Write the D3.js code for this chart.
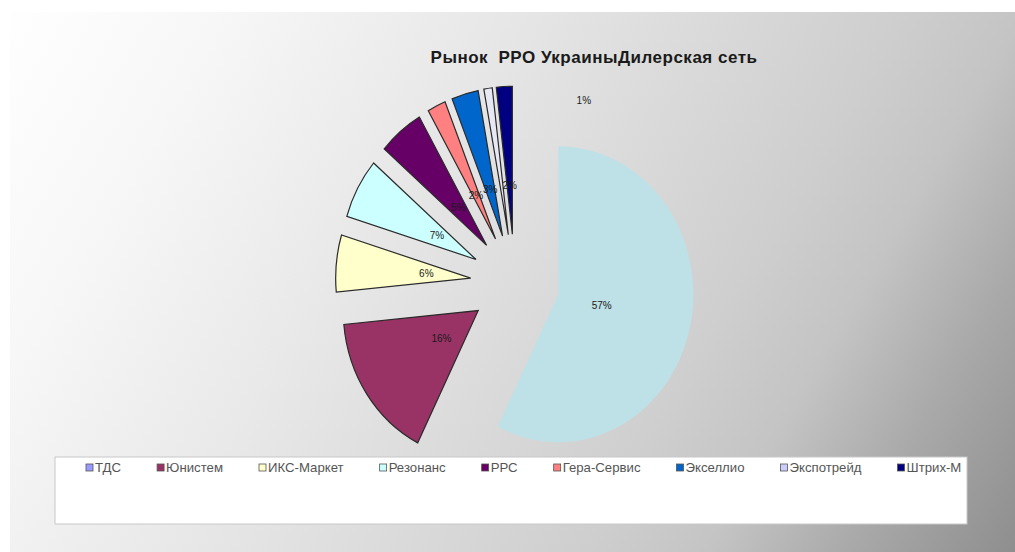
<!DOCTYPE html>
<html>
<head>
<meta charset="utf-8">
<script src="https://cdn.jsdelivr.net/npm/d3@7"></script>
<style>
  body { margin: 0; background: #fff; }
  svg { display: block; }
</style>
</head>
<body>
<div id="chart"></div>
<script>
// data (percent of market)
const categories = ['ТДС', 'Юнистем', 'ИКС-Маркет', 'Резонанс', 'РРС', 'Гера-Сервис', 'Экселлио', 'Экспотрейд', 'Штрих-М'];
const shares = [57.4, 16.1, 6.2, 6.6, 5.4, 2.2, 3.2, 1.0, 1.9];
const titleText = 'Рынок  РРО УкраиныДилерская сеть';

const sliceColors = ['#bde1e6', '#993366', '#ffffcc', '#ccffff', '#660066', '#ff8080', '#0066cc', '#e8e8f4', '#000080'];
const legendColors = ['#9999ff', '#993366', '#ffffcc', '#ccffff', '#660066', '#ff8080', '#0066cc', '#ccccff', '#000080'];

const width = 1015, height = 552;
const cx = 515, cy = 283, rx = 135, ry = 148, R = 100;
const explode = 0.33;     // every slice pulled out by a third of the radius
const labelPos = 0.33;    // labels a third of the way out from the slice tip

const svg = d3.select('#chart')
    .append('svg')
    .attr('width', width)
    .attr('height', height);

const defs = svg.append('defs');
const grad = defs.append('linearGradient')
    .attr('id', 'bg')
    .attr('gradientUnits', 'userSpaceOnUse')
    .attr('x1', 0).attr('y1', 0)
    .attr('x2', 996).attr('y2', 586);
[[0, '#ffffff'], [0.17, '#f7f7f7'], [0.36, '#e9e9e9'], [0.55, '#d9d9d9'],
 [0.68, '#cecece'], [0.77, '#c4c4c4'], [0.87, '#aaaaaa'], [1, '#8e8e8e']].forEach(s => {
    grad.append('stop').attr('offset', s[0]).attr('stop-color', s[1]);
});

svg.append('rect')
    .attr('x', 10).attr('y', 12)
    .attr('width', width - 10).attr('height', height - 12)
    .attr('fill', 'url(#bg)');

svg.append('text')
    .attr('x', 594).attr('y', 63)
    .attr('text-anchor', 'middle')
    .style('white-space', 'pre')
    .style('font-family', '"Liberation Sans", Arial, sans-serif')
    .style('font-weight', 'bold')
    .style('font-size', '17px')
    .style('letter-spacing', '0.5px')
    .attr('fill', '#1a1a1a')
    .text(titleText);

// pie drawn on a circle of radius R, then squashed into the ellipse
const pie = d3.pie().sort(null).value(d => d)(shares);
const arc = d3.arc().innerRadius(0).outerRadius(R);
const dir = a => [Math.sin(a), -Math.cos(a)];
const mid = d => (d.startAngle + d.endAngle) / 2;

const pieG = svg.append('g')
    .attr('transform', `translate(${cx},${cy}) scale(${rx / R},${ry / R})`);

pieG.selectAll('path')
    .data(pie)
    .enter()
    .append('path')
    .attr('d', arc)
    .attr('transform', d => {
        const v = dir(mid(d));
        return `translate(${v[0] * explode * R},${v[1] * explode * R})`;
    })
    .attr('fill', (d, i) => sliceColors[i])
    .attr('stroke', (d, i) => i === 0 ? 'none' : '#2a2a2a')
    .attr('stroke-width', 1.2)
    .attr('vector-effect', 'non-scaling-stroke');

// data labels
svg.selectAll('.lbl')
    .data(pie)
    .enter()
    .append('text')
    .attr('class', 'lbl')
    .attr('x', d => {
        if (d.value < 1.5) return cx + 0.51 * rx;   // tiny slice: label pushed up under the title
        return cx + dir(mid(d))[0] * (explode + labelPos) * rx;
    })
    .attr('y', d => {
        if (d.value < 1.5) return cy - 1.23 * ry;
        return cy + dir(mid(d))[1] * (explode + labelPos) * ry;
    })
    .attr('text-anchor', 'middle')
    .attr('dy', '0.35em')
    .style('font-family', '"Liberation Sans", Arial, sans-serif')
    .style('font-size', '10px')
    .attr('fill', '#1a1a1a')
    .text(d => Math.round(d.value) + '%');

// legend, a single row cut off by the box on the right
const legX = 55, legY = 457, legW = 912, legH = 67;
defs.append('clipPath').attr('id', 'legClip')
    .append('rect')
    .attr('x', legX).attr('y', legY).attr('width', legW).attr('height', legH);

svg.append('rect')
    .attr('x', legX).attr('y', legY)
    .attr('width', legW).attr('height', legH)
    .attr('fill', '#ffffff')
    .attr('stroke', '#c8c8c8');

const legG = svg.append('g').attr('clip-path', 'url(#legClip)');
let lx = 86;
categories.forEach((c, i) => {
    const item = legG.append('g').attr('transform', `translate(${lx},${legY + 7})`);
    item.append('rect')
        .attr('width', 7).attr('height', 7)
        .attr('fill', legendColors[i])
        .attr('stroke', '#555')
        .attr('stroke-width', 0.8);
    const t = item.append('text')
        .attr('transform', 'translate(9,7.5) scale(1.1,1)')
        .style('font-family', '"Liberation Sans", Arial, sans-serif')
        .style('font-size', '12px')
        .attr('fill', '#555')
        .text(c);
    lx += 45 + t.node().getComputedTextLength() * 1.1;
});
</script>
</body>
</html>
